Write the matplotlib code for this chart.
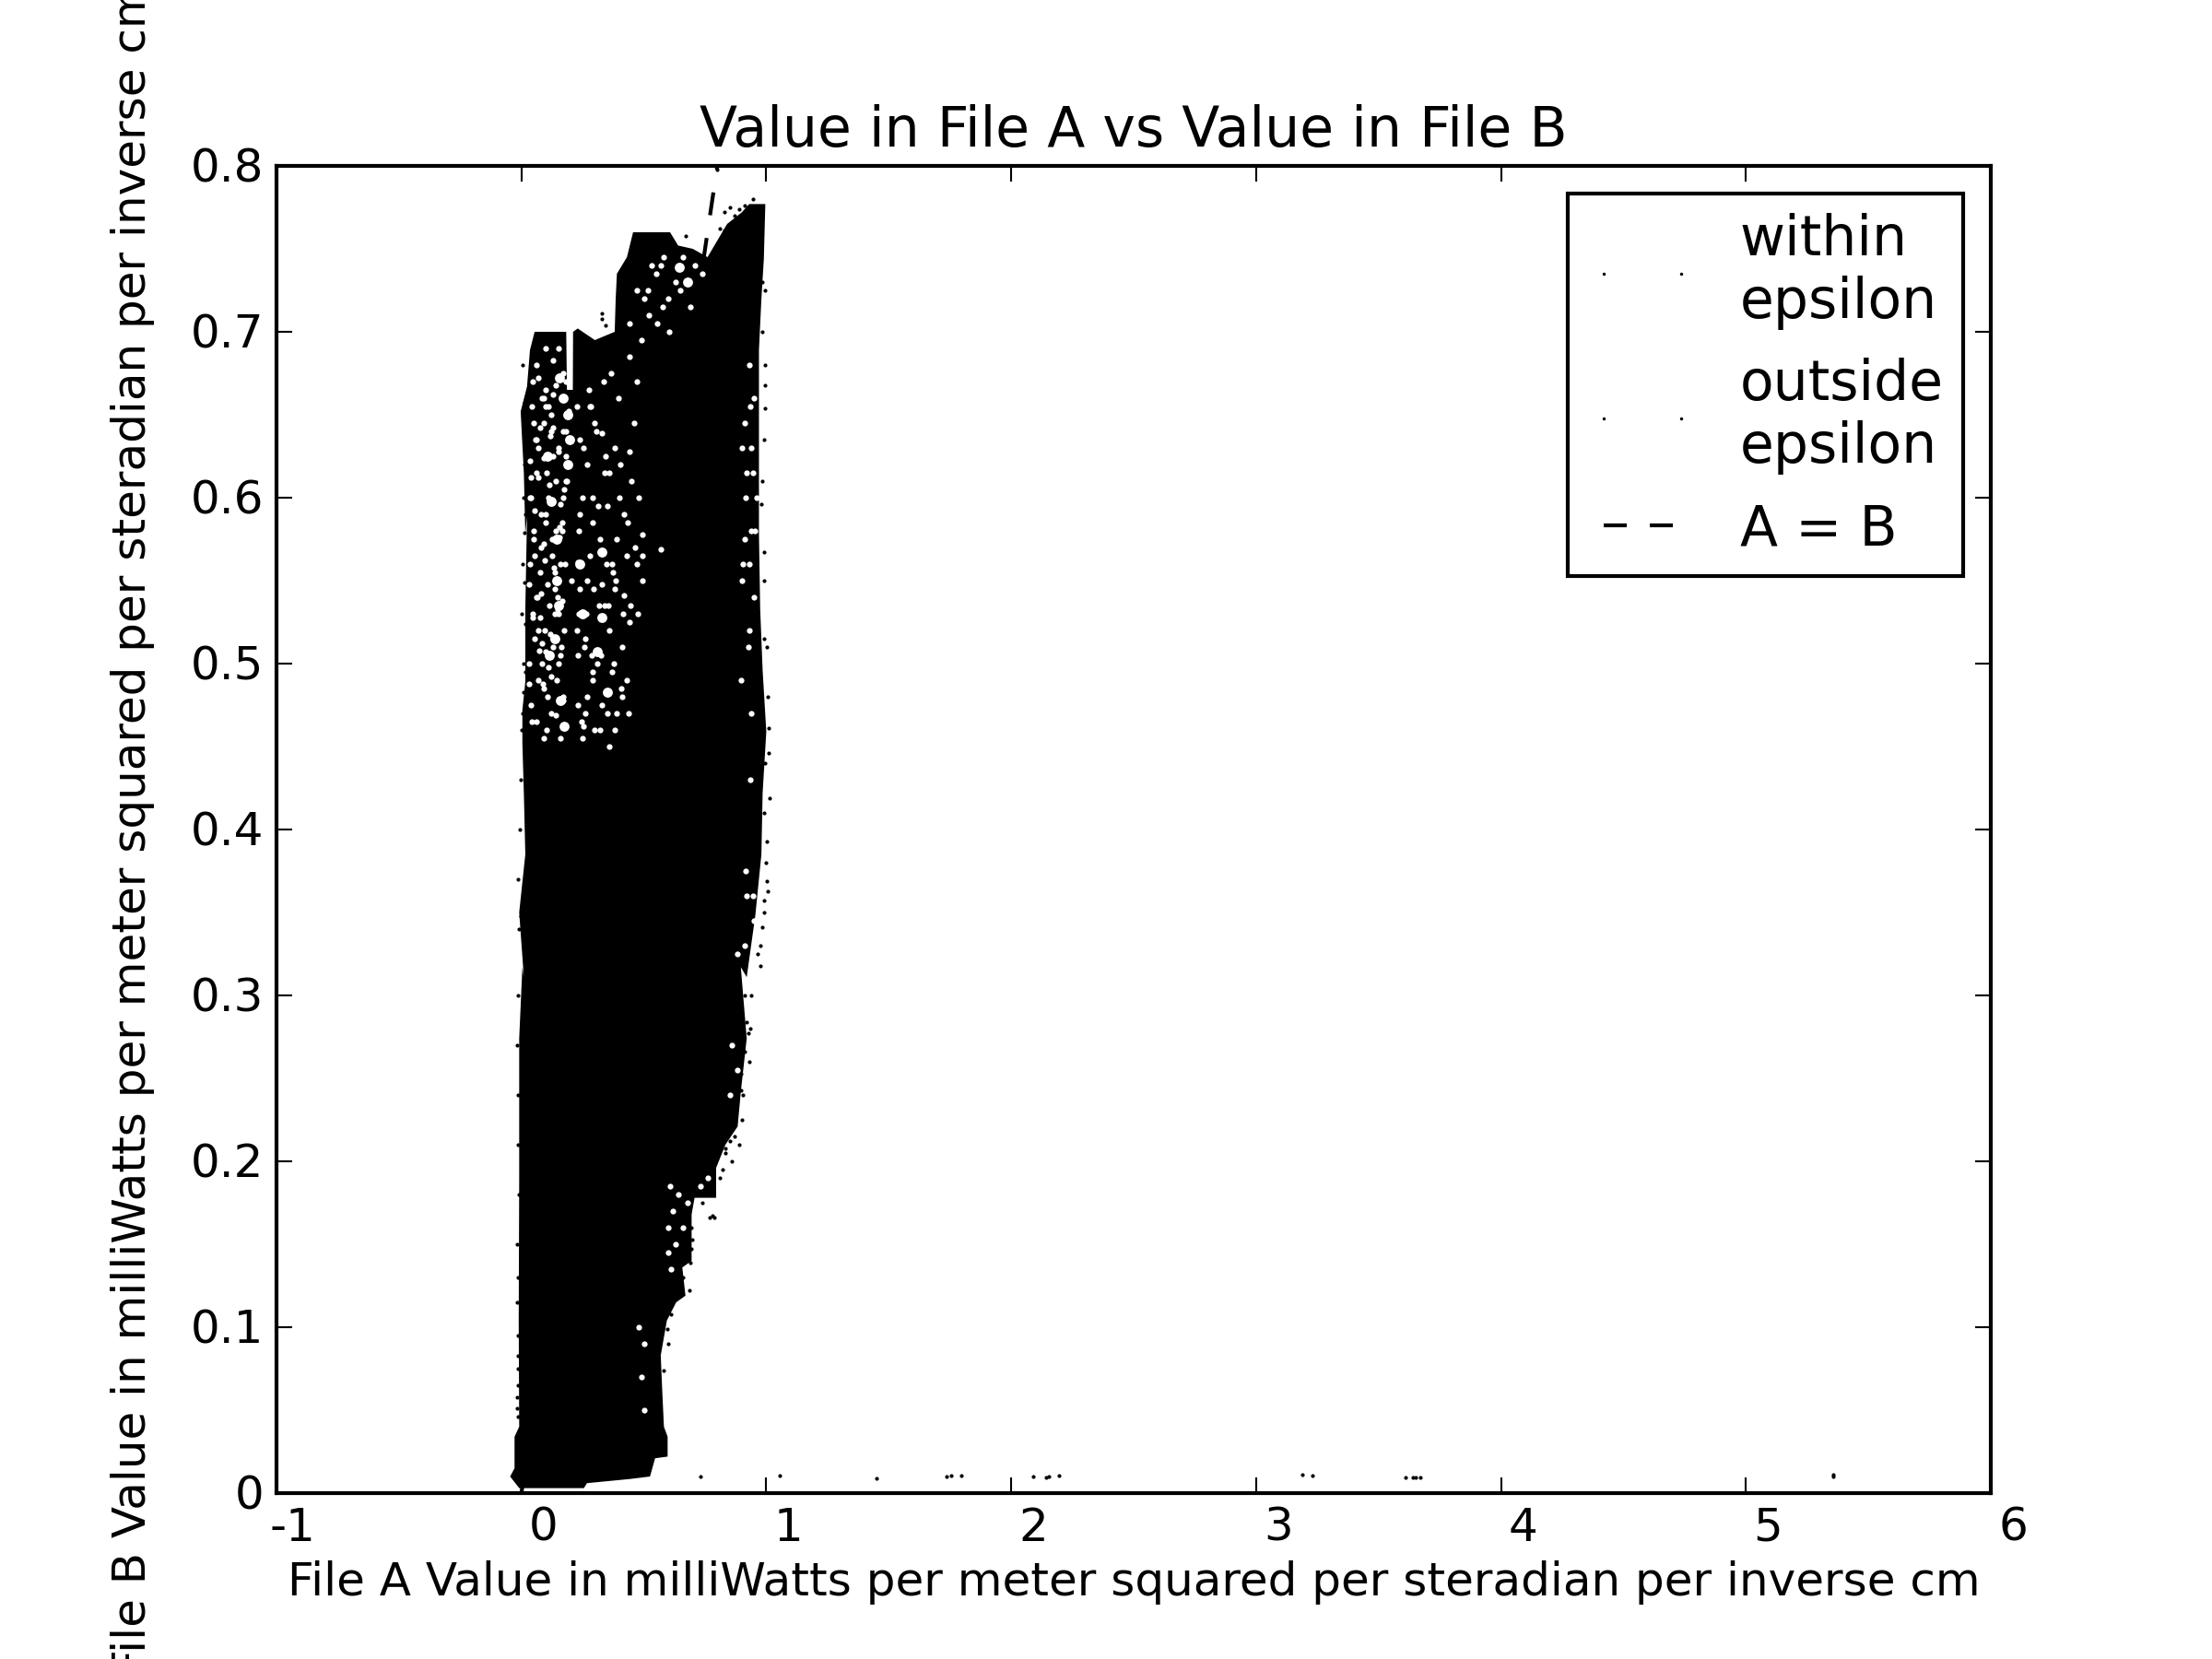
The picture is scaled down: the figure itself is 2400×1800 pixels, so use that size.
import matplotlib
matplotlib.use("Agg")
import matplotlib.pyplot as plt
from matplotlib.transforms import ScaledTranslation

plt.style.use("classic")

# outline of the region where the points merge into solid black
blob_x = [0.054, 0.18, 0.183, 0.186, 0.21, 0.211, 0.23, 0.30, 0.381, 0.385, 0.39, 0.431, 0.456, 0.607,
          0.64, 0.70, 0.76, 0.80, 0.84, 0.90, 0.93, 0.996, 0.99, 0.98, 0.97, 0.97, 0.97, 0.975, 0.985,
          1.0, 0.985, 0.98, 0.955, 0.92, 0.896, 0.92, 0.896, 0.883, 0.833, 0.795, 0.795, 0.707, 0.695,
          0.695, 0.657, 0.67, 0.632, 0.594, 0.569, 0.575, 0.582, 0.597, 0.597, 0.546, 0.525, 0.443,
          0.268, 0.255, -0.009, -0.046, -0.028, -0.028, -0.009, -0.011, -0.009, -0.009, 0.004, 0.01,
          -0.009, 0.016, 0.01, 0.004, 0.004, 0.016, 0.016, 0.023, 0.016, 0.01, -0.003, 0.023, 0.035]
blob_y = [0.70, 0.70, 0.70, 0.665, 0.665, 0.70, 0.702, 0.695, 0.70, 0.72, 0.735, 0.745, 0.76, 0.76,
          0.752, 0.75, 0.745, 0.755, 0.765, 0.772, 0.777, 0.777, 0.744, 0.72, 0.689, 0.64, 0.578, 0.533, 0.496,
          0.459, 0.422, 0.385, 0.348, 0.311, 0.317, 0.274, 0.242, 0.221, 0.21, 0.196, 0.178, 0.178, 0.168,
          0.14, 0.136, 0.119, 0.115, 0.104, 0.083, 0.062, 0.04, 0.034, 0.022, 0.021, 0.01, 0.0085,
          0.006, 0.003, 0.003, 0.01, 0.015, 0.034, 0.04, 0.104, 0.189, 0.274, 0.317, 0.311,
          0.35, 0.385, 0.422, 0.452, 0.472, 0.489, 0.533, 0.589, 0.578, 0.615, 0.652, 0.667, 0.689]

# pale specks inside the cloud where few points fall
gap_x = [0.13, 0.155, 0.18, 0.192, 0.117, 0.092, 0.186, 0.104, 0.13, 0.33, 0.38, 0.44, 0.645, 0.682, 0.63, 0.57,
         0.53, 0.443, 0.155, 0.092, 0.142, 0.148, 0.13, 0.10, 0.17, 0.14, 0.324, 0.23, 0.33, 0.236, 0.33, 0.311,
         0.418, 0.349, 0.255, 0.205, 0.494, 0.569, 0.431, 0.494,
         0.05, 0.07, 0.09, 0.12, 0.15, 0.17, 0.04, 0.06, 0.08, 0.11, 0.14, 0.165, 0.035, 0.075, 0.10, 0.125, 0.16,
         0.045, 0.065, 0.095, 0.135, 0.175, 0.03, 0.055, 0.085, 0.115, 0.15, 0.04, 0.07, 0.105, 0.145, 0.06, 0.09,
         0.12, 0.16, 0.05, 0.08, 0.13, 0.17, 0.06, 0.10, 0.15,
         0.24, 0.27, 0.30, 0.36, 0.40, 0.46, 0.25, 0.29, 0.35, 0.39, 0.45, 0.28, 0.32, 0.37, 0.42, 0.48, 0.24, 0.27,
         0.34, 0.38, 0.44, 0.26, 0.31, 0.36, 0.41, 0.47, 0.23, 0.29, 0.37, 0.43, 0.27, 0.33, 0.39, 0.25, 0.30, 0.36,
         0.24, 0.29, 0.34, 0.28,
         0.93, 0.95, 0.91, 0.94, 0.92, 0.96, 0.90, 0.94, 0.93, 0.91, 0.95, 0.93, 0.90, 0.94, 0.92, 0.95, 0.91, 0.88,
         0.50, 0.55, 0.47, 0.60, 0.58, 0.66, 0.71, 0.52, 0.49, 0.44, 0.47, 0.69, 0.74,
         0.607, 0.64, 0.68, 0.73, 0.76, 0.62, 0.60, 0.63, 0.66, 0.60, 0.61, 0.50, 0.49, 0.50, 0.48, 0.88, 0.86, 0.85,
         0.035, 0.055, 0.075, 0.095, 0.115, 0.135, 0.155, 0.175, 0.045, 0.085, 0.125, 0.165, 0.03, 0.07, 0.11, 0.15,
         0.05, 0.09, 0.13, 0.17, 0.04, 0.08, 0.12, 0.16, 0.06, 0.10, 0.14, 0.18,
         0.043, 0.067, 0.098, 0.128, 0.158, 0.183, 0.052, 0.078, 0.108, 0.138, 0.168, 0.033, 0.062, 0.088, 0.118,
         0.148, 0.178, 0.042, 0.072, 0.102, 0.132, 0.162, 0.048, 0.082, 0.112, 0.142, 0.172, 0.036, 0.058, 0.092,
         0.122, 0.152, 0.182, 0.068, 0.098, 0.128,
         0.225, 0.255, 0.285, 0.315, 0.345, 0.375, 0.405, 0.435, 0.465, 0.495, 0.235, 0.265, 0.295, 0.325, 0.355,
         0.385, 0.415, 0.445, 0.475, 0.228, 0.258, 0.288, 0.318, 0.348, 0.378, 0.408, 0.438, 0.232, 0.262, 0.292,
         0.322, 0.352, 0.382, 0.412, 0.245, 0.275, 0.305, 0.335, 0.365, 0.395,
         0.935, 0.915, 0.945, 0.905, 0.955, 0.925, 0.895, 0.935, 0.915, 0.945, 0.555, 0.575, 0.515, 0.605, 0.65]
gap_y = [0.683, 0.672, 0.67, 0.652, 0.637, 0.624, 0.61, 0.615, 0.598, 0.639, 0.63, 0.628, 0.739, 0.73, 0.73, 0.74,
         0.74, 0.705, 0.576, 0.572, 0.55, 0.533, 0.515, 0.507, 0.48, 0.469, 0.567, 0.561, 0.548, 0.53, 0.528, 0.507,
         0.541, 0.483, 0.462, 0.55, 0.578, 0.569, 0.565, 0.55,
         0.645, 0.63, 0.66, 0.65, 0.628, 0.64, 0.60, 0.615, 0.59, 0.60, 0.61, 0.585, 0.56, 0.555, 0.59, 0.575, 0.56,
         0.53, 0.54, 0.52, 0.555, 0.52, 0.50, 0.515, 0.50, 0.535, 0.50, 0.475, 0.49, 0.48, 0.49, 0.465, 0.455,
         0.47, 0.455, 0.58, 0.57, 0.625, 0.60, 0.68, 0.69, 0.69,
         0.635, 0.62, 0.645, 0.615, 0.60, 0.645, 0.60, 0.585, 0.595, 0.575, 0.61, 0.565, 0.575, 0.56, 0.59, 0.60, 0.545, 0.55,
         0.535, 0.545, 0.525, 0.515, 0.50, 0.52, 0.51, 0.56, 0.505, 0.495, 0.495, 0.49, 0.48, 0.475, 0.47, 0.455, 0.46, 0.45,
         0.59, 0.60, 0.615, 0.655,
         0.68, 0.66, 0.645, 0.63, 0.615, 0.60, 0.63, 0.58, 0.56, 0.575, 0.54, 0.52, 0.55, 0.47, 0.36, 0.345, 0.33, 0.325,
         0.72, 0.735, 0.725, 0.72, 0.745, 0.745, 0.74, 0.71, 0.695, 0.685, 0.67, 0.715, 0.735,
         0.185, 0.18, 0.175, 0.185, 0.19, 0.17, 0.16, 0.15, 0.16, 0.145, 0.135, 0.09, 0.07, 0.05, 0.10, 0.255, 0.27, 0.24,
         0.622, 0.592, 0.642, 0.562, 0.608, 0.545, 0.582, 0.605, 0.528, 0.512, 0.565, 0.538, 0.548, 0.52, 0.498, 0.53,
         0.575, 0.485, 0.51, 0.478, 0.612, 0.542, 0.492, 0.505, 0.635, 0.655, 0.58, 0.625,
         0.655, 0.612, 0.585, 0.642, 0.596, 0.61, 0.565, 0.528, 0.548, 0.53, 0.58, 0.488, 0.54, 0.488, 0.518,
         0.54, 0.56, 0.465, 0.508, 0.46, 0.558, 0.51, 0.67, 0.66, 0.655, 0.668, 0.675, 0.60, 0.635, 0.645, 0.64,
         0.63, 0.64, 0.672, 0.665, 0.662,
         0.655, 0.63, 0.655, 0.595, 0.625, 0.555, 0.62, 0.585, 0.57, 0.565, 0.58, 0.53, 0.545, 0.505, 0.535,
         0.55, 0.53, 0.535, 0.53, 0.52, 0.51, 0.505, 0.535, 0.56, 0.50, 0.485, 0.47, 0.475, 0.47, 0.49,
         0.46, 0.47, 0.46, 0.48, 0.465, 0.665, 0.64, 0.67, 0.675, 0.66,
         0.655, 0.60, 0.615, 0.56, 0.58, 0.51, 0.49, 0.43, 0.375, 0.36, 0.705, 0.715, 0.725, 0.70, 0.725]

# the larger white patches, mostly in the sparse left column
hole_x = [0.155, 0.17, 0.19, 0.195, 0.19, 0.145, 0.15, 0.135, 0.115, 0.16, 0.12, 0.175, 0.33, 0.31, 0.25, 0.35,
          0.24, 0.645, 0.68, 0.33, 0.145, 0.105]
hole_y = [0.672, 0.66, 0.65, 0.635, 0.62, 0.55, 0.535, 0.515, 0.505, 0.478, 0.598, 0.462, 0.567, 0.507, 0.53, 0.483,
          0.56, 0.739, 0.73, 0.528, 0.575, 0.625]

# single points that stand clear of the cloud
within_x = [0.73, 1.055, 1.449, 1.735, 1.754, 1.796, 2.091, 2.141, 2.152, 2.194,
            3.187, 3.229, 3.61, 3.639, 3.65, 3.67, 5.356, 5.356]
within_y = [0.01, 0.0107, 0.0091, 0.01, 0.0106, 0.0106, 0.01, 0.0096, 0.0102, 0.0106,
            0.0111, 0.0107, 0.0096, 0.0096, 0.0096, 0.0096, 0.0102, 0.0111]
outside_x = [0.946, 0.798, 0.33, 0.33, 0.343, 0.67, 0.996, 0.996, 0.996, 0.996, 0.99, 0.981,
             0.014, 0.014, 0.016, 0.014, 0.99, 0.99, 1.009, 1.009, 1.013, 1.003, 1.003, 1.006, 0.99, 0.984, 0.977,
             0.013, 0.016, 0.016, 0.01, -0.003,
             0.921, 0.925, 0.912, 0.896, 0.896, 0.852, 0.833, 0.833, 0.779, 0.77, 0.789, 0.695, 0.697, 0.695, 0.691,
             0.686, 0.597, 0.582, -0.015, -0.018, -0.019, -0.015, -0.015,
             0.83, 0.85, 0.87, 0.89, 0.91, 0.81, 0.83, 0.85, 0.87,
             # along the left edge
             -0.014, -0.016, -0.013, -0.015, -0.012, -0.017, -0.014, -0.016, -0.013, -0.015, -0.012, -0.014,
             -0.006, -0.004, 0.000, 0.006, 0.008, 0.002, 0.005, 0.010, 0.012, 0.004,
             # along the right edge
             0.985, 0.982, 0.985, 0.99, 1.002, 1.005, 0.995, 0.992, 1.0, 0.99, 0.975, 0.965, 0.94, 0.935, 0.93,
             0.91, 0.905, 0.90, 0.89, 0.87, 0.86, 0.82, 0.81, 0.76, 0.74, 0.72, 0.66, 0.645, 0.61, 0.60]
outside_y = [0.78, 0.798, 0.708, 0.711, 0.704, 0.758, 0.725, 0.68, 0.654, 0.668, 0.635, 0.596,
             0.657, 0.62, 0.59, 0.579, 0.567, 0.515, 0.461, 0.446, 0.419, 0.393, 0.369, 0.363, 0.357, 0.341, 0.318,
             0.549, 0.524, 0.495, 0.483, 0.348,
             0.284, 0.277, 0.266, 0.253, 0.243, 0.212, 0.208, 0.205, 0.167, 0.166, 0.166, 0.16, 0.153, 0.147, 0.139,
             0.122, 0.099, 0.074, 0.065, 0.058, 0.051, 0.046, 0.083,
             0.772, 0.775, 0.77, 0.774, 0.776, 0.762, 0.761, 0.763, 0.765,
             0.30, 0.27, 0.24, 0.21, 0.18, 0.15, 0.13, 0.115, 0.095, 0.075, 0.34, 0.37,
             0.40, 0.43, 0.46, 0.47, 0.50, 0.53, 0.56, 0.60, 0.635, 0.68,
             0.73, 0.70, 0.61, 0.55, 0.51, 0.48, 0.44, 0.41, 0.38, 0.35, 0.33, 0.325, 0.30, 0.28, 0.26,
             0.30, 0.24, 0.225, 0.21, 0.215, 0.20, 0.195, 0.19, 0.185, 0.175, 0.18, 0.13, 0.125, 0.108, 0.09]

# ends of the A = B line
equal_line = [-0.0816, 5.4]

x_ticks = [-1, 0, 1, 2, 3, 4, 5, 6]
x_labels = ["-1", "0", "1", "2", "3", "4", "5", "6"]
y_ticks = [0, 0.1, 0.2, 0.3, 0.4, 0.5, 0.6, 0.7, 0.8]
y_labels = ["0", "0.1", "0.2", "0.3", "0.4", "0.5", "0.6", "0.7", "0.8"]

fig = plt.figure(figsize=(8, 6), dpi=300)
fig.patch.set_facecolor("white")
ax = fig.add_subplot(111)

ax.fill(blob_x, blob_y, color="k", lw=0, zorder=1)
ax.plot(gap_x, gap_y, "o", color="w", ms=1.5, mew=0, zorder=2)
ax.plot(hole_x, hole_y, "o", color="w", ms=2.6, mew=0, zorder=2)
line, = ax.plot(equal_line, equal_line, "k--", zorder=3)
within, = ax.plot(within_x, within_y, "k.", ms=1, mew=0.5, zorder=4)
outside, = ax.plot(outside_x, outside_y, "k.", ms=1, mew=0.5, zorder=4)

ax.set_xlim(-1, 6)
ax.set_ylim(0, 0.8)
ax.set_xticks(x_ticks)
ax.set_xticklabels(x_labels)
ax.set_yticks(y_ticks)
ax.set_yticklabels(y_labels)

# tick labels sit slightly off their default places in the original
for i, lab in enumerate(ax.get_xticklabels()):
    dx = 17 if i == 0 else 24
    lab.set_transform(lab.get_transform() + ScaledTranslation(dx / 300, 3 / 300, fig.dpi_scale_trans))
for lab in ax.get_yticklabels():
    lab.set_transform(lab.get_transform() + ScaledTranslation(3 / 300, -3 / 300, fig.dpi_scale_trans))

ax.set_title("Value in File A vs Value in File B")
ax.set_xlabel("File A Value in milliWatts per meter squared per steradian per inverse cm", labelpad=2.8)
ax.set_ylabel("File B Value in milliWatts per meter squared per steradian per inverse cm", labelpad=9.2)

ax.legend([within, outside, line], ["within\nepsilon", "outside\nepsilon", "A = B"],
          loc="upper right", markerscale=0.65, borderpad=0.35, handletextpad=0.77)

fig.savefig("out.png", dpi=300, facecolor="white")
